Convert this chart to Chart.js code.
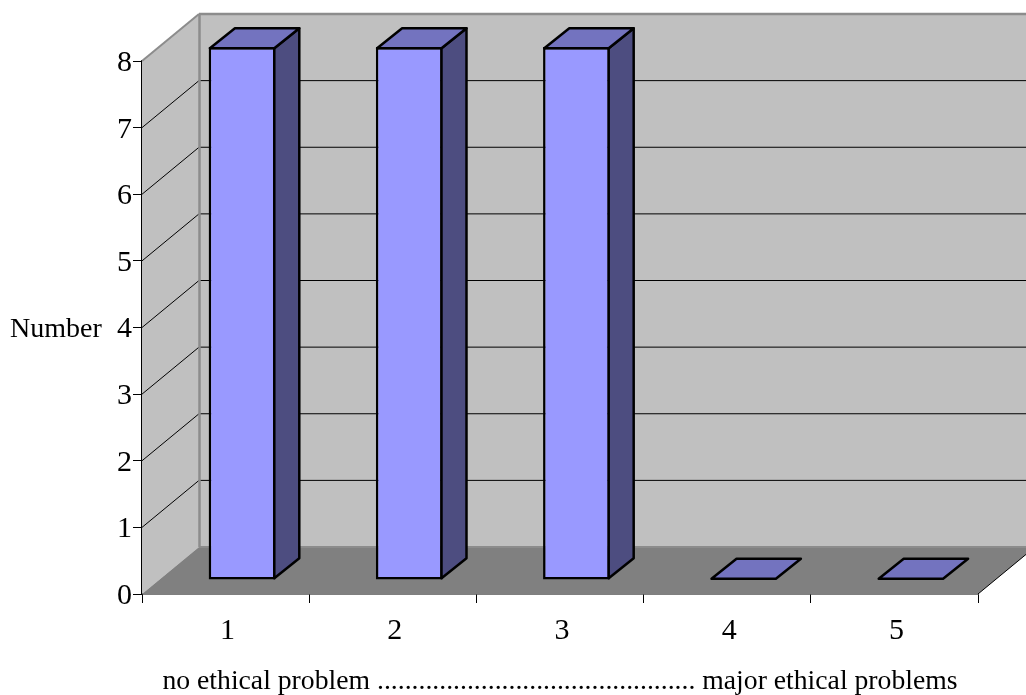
<!DOCTYPE html>
<html>
<head>
<meta charset="utf-8">
<script src="https://cdn.jsdelivr.net/npm/chart.js@4"></script>
<style>
    html, body { margin: 0; padding: 0; background: #fff; }
    #wrap { width: 1026px; height: 695px; }
</style>
</head>
<body>
<div id="wrap"><canvas id="chart"></canvas></div>
<script>
const categories = ['1', '2', '3', '4', '5'];
const counts = [8, 8, 8, 0, 0];
const yTicks = [0, 1, 2, 3, 4, 5, 6, 7, 8];
const xAxisTitle = 'no ethical problem .............................................. major ethical problems';
const yAxisTitle = 'Number';

const FONT = '"Liberation Serif", serif';

// 3D look: how far the back wall and the bars sit from the front plane
const wallDx = 57, wallDy = -47;
const barDx = 16.5, barDy = -14;
const barDepthX = 25, barDepthY = -20;
const barLine = 2.5;

function poly(ctx, pts, fill, stroke, lineWidth) {
    ctx.beginPath();
    pts.forEach((p, i) => i ? ctx.lineTo(p[0], p[1]) : ctx.moveTo(p[0], p[1]));
    ctx.closePath();
    if (fill) {
        ctx.fillStyle = fill;
        ctx.fill();
    }
    if (stroke) {
        ctx.strokeStyle = stroke;
        ctx.lineWidth = lineWidth;
        ctx.lineJoin = 'round';
        ctx.stroke();
    }
}

function line(ctx, x1, y1, x2, y2, color, width) {
    ctx.beginPath();
    ctx.moveTo(x1, y1);
    ctx.lineTo(x2, y2);
    ctx.strokeStyle = color;
    ctx.lineWidth = width;
    ctx.stroke();
}

const walls3d = {
    id: 'walls3d',
    beforeDatasetsDraw(chart) {
        const ctx = chart.ctx;
        const { left, right } = chart.chartArea;
        const y = chart.scales.y;
        const top = y.getPixelForValue(8), bottom = y.getPixelForValue(0);
        const backLeft = left + wallDx, backRight = right + wallDx;
        ctx.save();
        // back wall
        poly(ctx, [[backLeft, top + wallDy], [backRight, top + wallDy], [backRight, bottom + wallDy], [backLeft, bottom + wallDy]], '#c0c0c0');
        // left wall
        poly(ctx, [[left, top], [backLeft, top + wallDy], [backLeft, bottom + wallDy], [left, bottom]], '#c0c0c0');
        // floor
        poly(ctx, [[left, bottom], [backLeft, bottom + wallDy], [backRight, bottom + wallDy], [right, bottom]], '#808080');
        // gridlines run along the left wall then the back wall
        yTicks.slice(1, -1).forEach(v => {
            const py = y.getPixelForValue(v);
            line(ctx, left, py, backLeft, py + wallDy, '#000', 1);
            line(ctx, backLeft, py + wallDy, backRight, py + wallDy, '#000', 1);
        });
        line(ctx, backLeft, top + wallDy, backRight, top + wallDy, '#8c8c8c', 2.5);
        line(ctx, backLeft + 0.5, top + wallDy, backLeft + 0.5, bottom + wallDy, '#8c8c8c', 2.5);
        line(ctx, left, top, backLeft, top + wallDy, '#8c8c8c', 2);
        line(ctx, backLeft, bottom + wallDy, backRight, bottom + wallDy, '#8c8c8c', 2);
        line(ctx, right, bottom, backRight, bottom + wallDy, '#000', 1);
        ctx.restore();
    },
    beforeDatasetDraw(chart) {
        chart.ctx.save();
        // moves the front faces back into the box
        chart.ctx.translate(barDx, barDy);
    },
    afterDatasetDraw(chart, args) {
        const ctx = chart.ctx;
        const inset = barLine / 2;
        ctx.restore();
        ctx.save();
        args.meta.data.forEach(bar => {
            // the library keeps the border inside the bar, so follow its centre line
            const half = bar.width / 2 - inset;
            const xl = bar.x - half + barDx, xr = bar.x + half + barDx;
            const tall = Math.abs(bar.base - bar.y) > barLine;
            const yt = bar.y + barDy + (tall ? inset : -inset), yb = bar.base + barDy - inset;
            if (tall) {
                poly(ctx, [[xr, yt], [xr + barDepthX, yt + barDepthY], [xr + barDepthX, yb + barDepthY], [xr, yb]], '#4d4d80', '#000', barLine);
            }
            poly(ctx, [[xl, yt], [xl + barDepthX, yt + barDepthY], [xr + barDepthX, yt + barDepthY], [xr, yt]], '#7373bf', '#000', barLine);
        });
        ctx.restore();
    },
    afterDraw(chart) {
        const ctx = chart.ctx;
        ctx.save();
        ctx.fillStyle = '#000';
        ctx.font = '28px ' + FONT;
        ctx.textAlign = 'left';
        ctx.textBaseline = 'middle';
        ctx.fillText(yAxisTitle, 10, 330);
        ctx.restore();
    }
};

new Chart(document.getElementById('chart'), {
    type: 'bar',
    data: {
        labels: categories,
        datasets: [{
            data: counts,
            backgroundColor: '#9999ff',
            borderColor: '#000',
            borderWidth: barLine,
            borderSkipped: false,
            barPercentage: 0.4,
            categoryPercentage: 1,
            clip: false
        }]
    },
    options: {
        responsive: true,
        maintainAspectRatio: false,
        animation: false,
        layout: { padding: { top: 61, right: 48, left: 0, bottom: 0 } },
        plugins: {
            legend: { display: false },
            tooltip: { enabled: false }
        },
        scales: {
            x: {
                grid: { drawOnChartArea: false, color: '#000', tickLength: 9, offset: true },
                border: { color: '#000', width: 1.5 },
                ticks: { color: '#000', font: { family: FONT, size: 30 }, padding: 10, labelOffset: 2 },
                title: { display: true, text: xAxisTitle, color: '#000', font: { family: FONT, size: 27.7 }, padding: { top: 4, bottom: -3 } },
                afterFit(scale) { scale.height = 101; }
            },
            y: {
                min: 0,
                max: 8,
                afterBuildTicks(scale) { scale.ticks = yTicks.map(v => ({ value: v })); },
                grid: { drawOnChartArea: false, color: '#000', tickLength: 9 },
                border: { color: '#000', width: 1.5 },
                ticks: { color: '#000', font: { family: FONT, size: 30 }, padding: 1, labelOffset: 2 },
                afterFit(scale) { scale.width = 142; }
            }
        }
    },
    plugins: [walls3d]
});
</script>
</body>
</html>
